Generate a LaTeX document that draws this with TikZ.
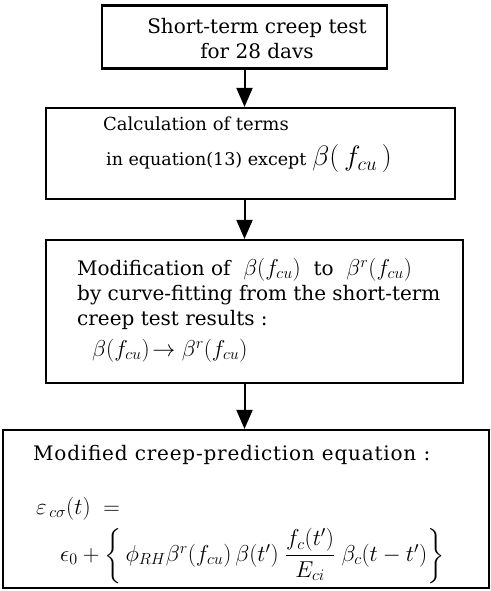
\RequirePackage{fix-cm}
\documentclass[tikz,border=0pt]{standalone}
\usepackage{amsmath,amssymb}
\usepackage{fontspec}
\setmainfont{DejaVu Serif}
\usetikzlibrary{arrows.meta,positioning}
\newcommand{\mth}[2]{{\fontsize{#1}{25}\selectfont$#2$}}

\begin{document}
\begin{tikzpicture}[x=1pt, y=-1pt, >={Triangle[width=16pt,length=19pt]},
  every node/.style={font=\fontsize{20}{25}\selectfont},
  box/.style={draw, line width=2.2pt, inner sep=0pt},
  txt/.style={align=left, inner sep=0pt, anchor=north west},
  flow/.style={->, line width=2pt}]
\useasboundingbox (0,0) rectangle (490,591);
% boxes
\node[box, minimum width=285pt, minimum height=63pt] (test) at (244.5,37) {};
\node[box, minimum width=409pt, minimum height=91pt] (calc) at (250.5,153.5) {};
\node[box, minimum width=417pt, minimum height=143pt] (modif) at (254.5,311.5) {};
\node[box, minimum width=486pt, minimum height=158pt] (pred) at (246,509) {};
% texts
\node[align=center, inner sep=0pt, anchor=north] (testtxt) at (257,18)
  {Short-term creep test\\for 28 davs};
\node[txt, font=\fontsize{18}{25}\selectfont] (calctxt) at (103,117)
  {Calculation of terms\\[10pt]\hspace{3pt}{\fontsize{17.5}{25}\selectfont in equation(13) except}\hspace{6pt}\mth{28}{\beta(\,f_{cu}\,)}};
\node[txt] (modiftxt) at (77,258)
  {Modification of \ \mth{23}{\beta(f_{cu})} \ to \ \mth{23}{\beta^{r}(f_{cu})}\\
   by curve-fitting from the short-term\\
   creep test results :\\[6pt]
   \hspace{15pt}\mth{23}{\beta(f_{cu})\!\rightarrow\beta^{r}(f_{cu})}};
\node[txt, font=\fontsize{20}{25}\selectfont\addfontfeatures{LetterSpace=4}] (predtxt) at (33,445)
  {Modified creep-prediction equation :};
\node[txt, font=\fontsize{23}{25}\selectfont] (predeq) at (36,497)
  {$\varepsilon_{\,c\sigma}(t)\;=$\\[7pt]
   \hspace{24pt}$\epsilon_0+\left\{\,\phi_{RH}\beta^{r}(f_{cu})\,\beta(t')\;\dfrac{f_c(t')}{E_{ci}}\;\beta_c(t-t')\right\}$};
% arrows
\draw[flow] (test.south) -- (test.south |- calc.north);
\draw[flow] (calc.south -| test.south) -- (test.south |- modif.north);
\draw[flow] (modif.south -| test.south) -- (test.south |- pred.north);
\end{tikzpicture}
\end{document}
